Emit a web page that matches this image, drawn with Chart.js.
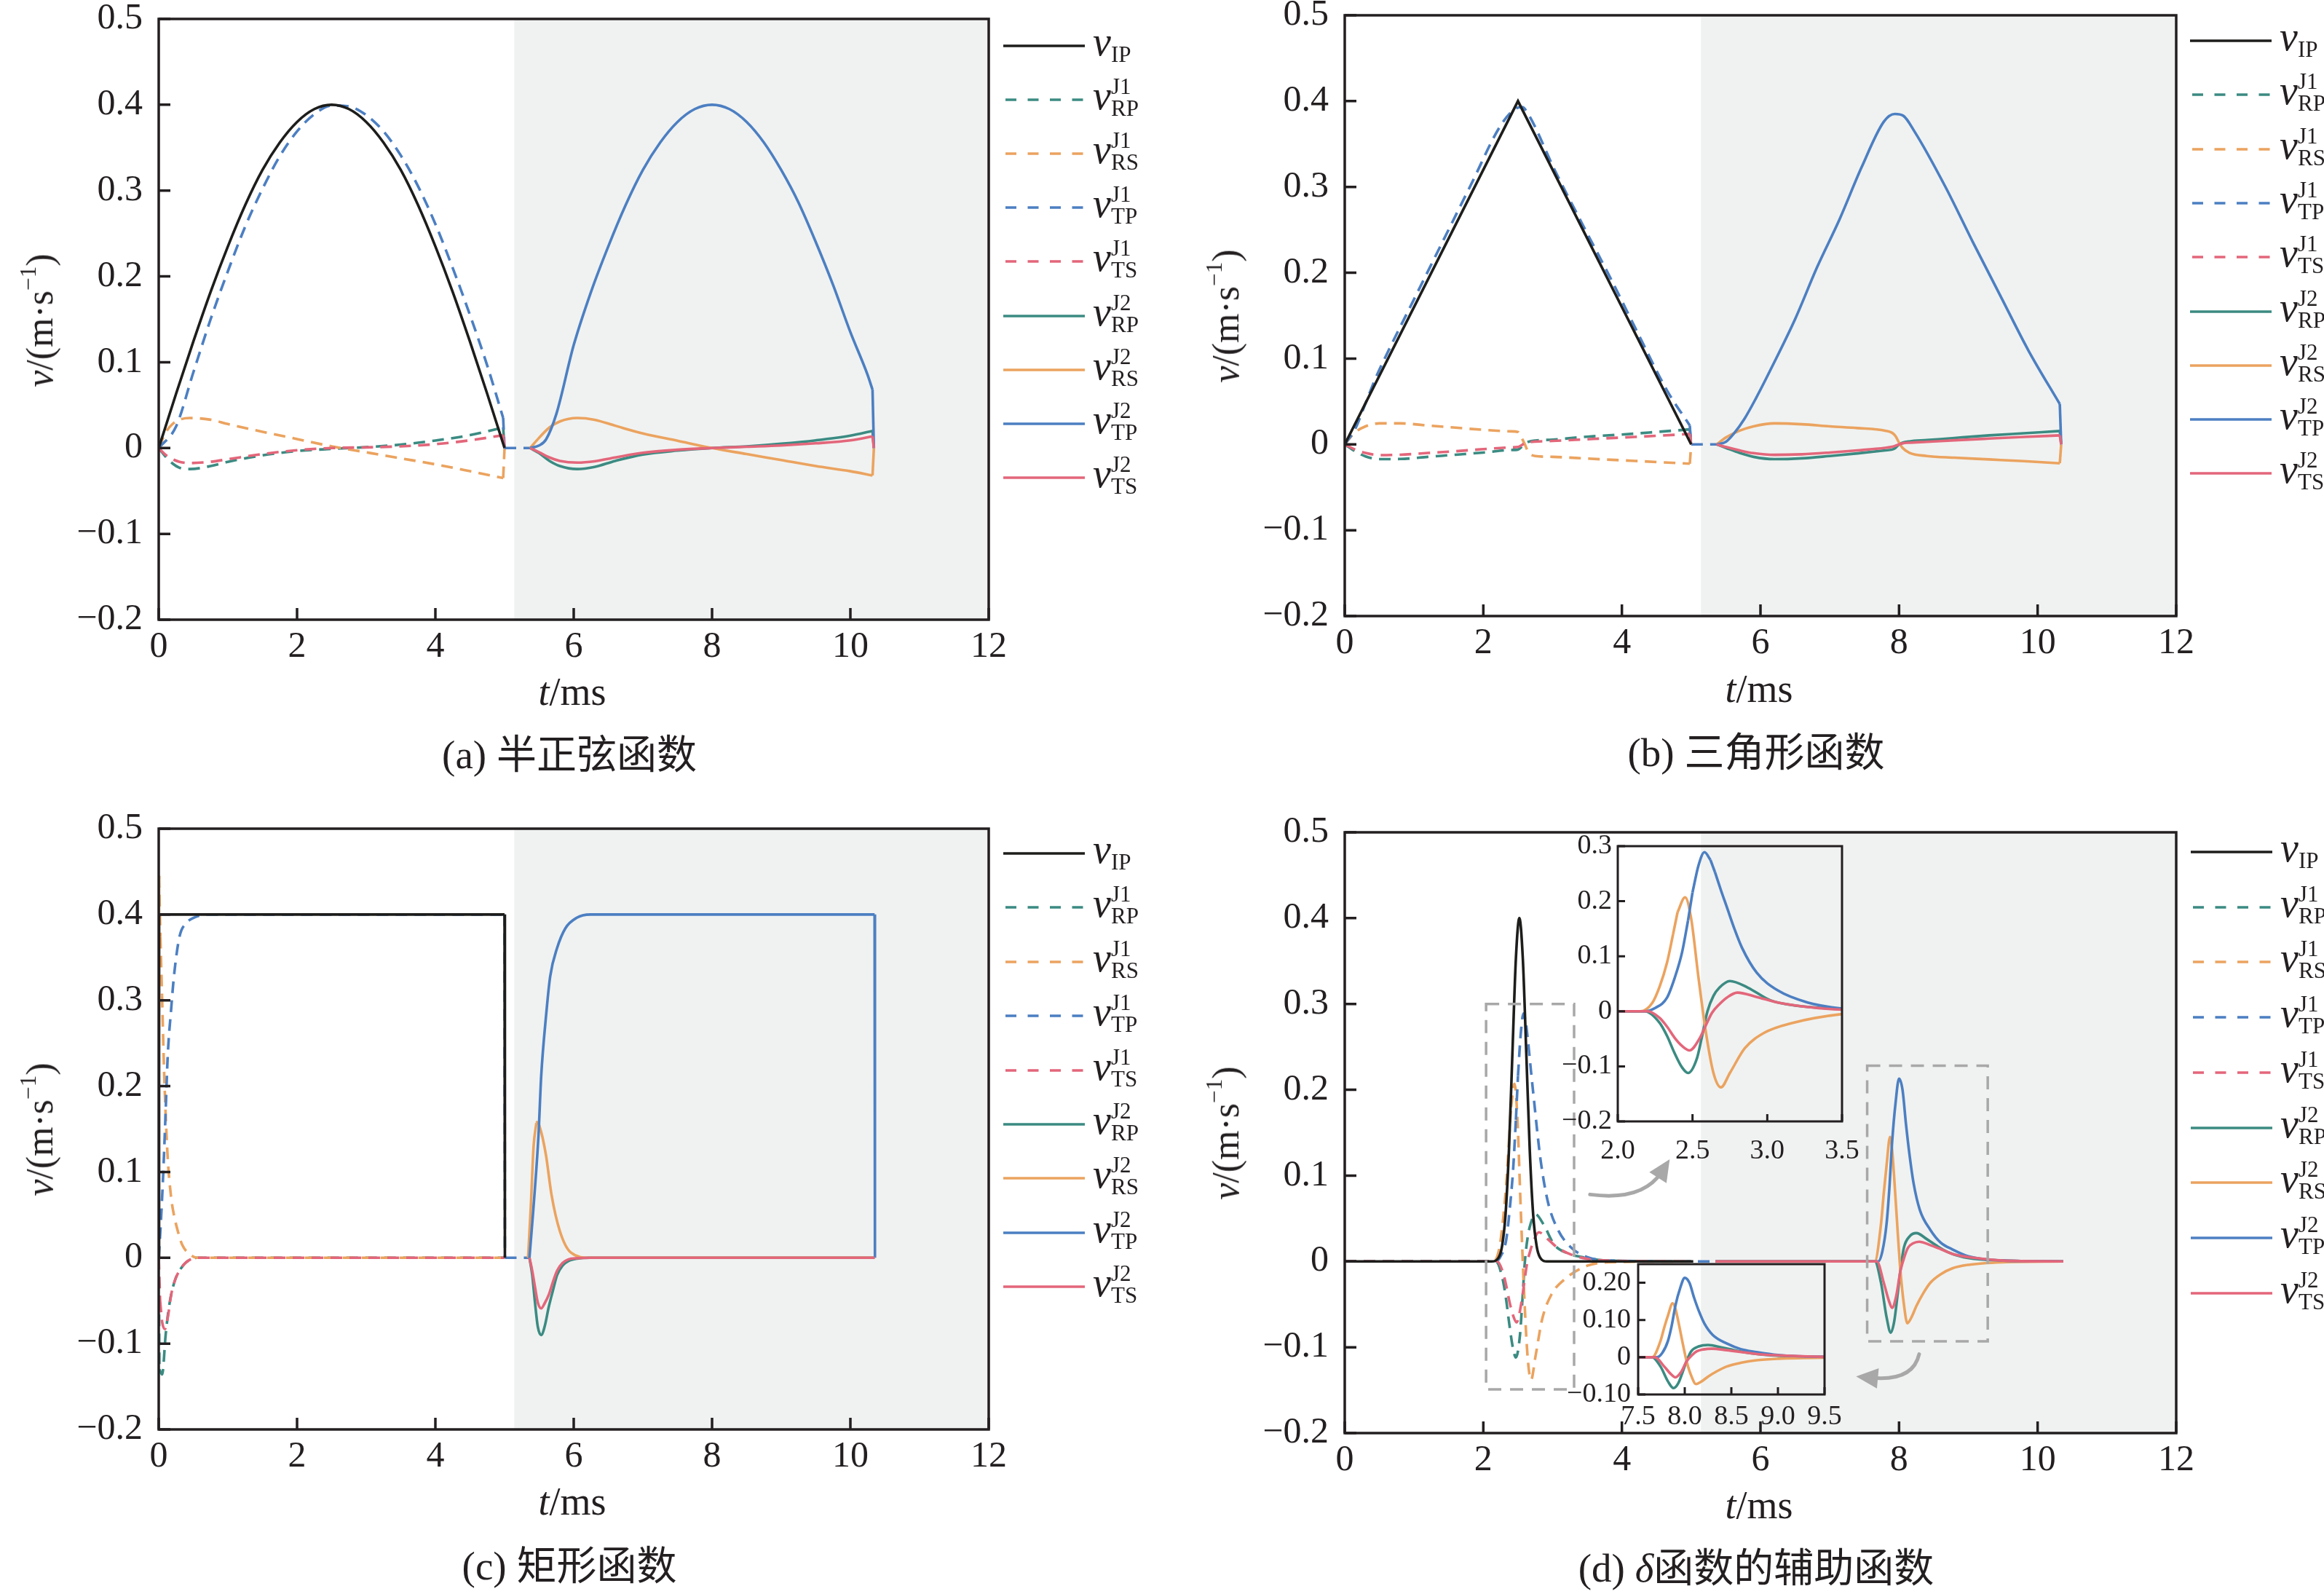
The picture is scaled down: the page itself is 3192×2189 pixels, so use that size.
<!DOCTYPE html>
<html>
<head>
<meta charset="utf-8">
<script src="https://cdn.jsdelivr.net/npm/chart.js"></script>
<style>
body{margin:0;background:#fff;}
#page{position:relative;width:3192px;height:2189px;overflow:hidden;background:#fff;
  font-family:"Liberation Serif","Noto Sans CJK SC",serif;color:#231f20;}
canvas{position:absolute;}
.lbl{position:absolute;white-space:nowrap;line-height:1;}
.ctr{transform:translate(-50%,-50%);}
.rot{transform:translate(-50%,-50%) rotate(-90deg);}
sup.ex{font-size:0.6em;line-height:0;vertical-align:0.75em;}
</style>
</head>
<body>
<div id="page"></div>
<script>
// ---------- (a) half-sine ----------
const aT_IP=[0,0.25,0.5,0.75,1,1.25,1.5,1.75,2,2.25,2.5,2.75,3,3.25,3.5,3.75,4,4.25,4.5,4.75,5];
const aIP=[0,0.063,0.124,0.182,0.235,0.283,0.324,0.356,0.38,0.395,0.4,0.395,0.38,0.356,0.324,0.283,0.235,0.182,0.124,0.063,0];
const aT_J1TP=[0,0.25,0.5,0.75,1,1.25,1.5,1.75,2,2.25,2.5,2.75,3,3.25,3.5,3.75,4,4.25,4.5,4.75,4.98,5.0,5.37];
const aJ1TP=[0,0.025,0.088,0.15,0.206,0.258,0.302,0.34,0.369,0.389,0.399,0.398,0.388,0.369,0.341,0.305,0.261,0.21,0.155,0.096,0.035,0,0];
const aT_J1=[0,0.1,0.2,0.3,0.45,0.75,1,1.5,2,2.5,3,3.5,4,4.5,4.98,5.0];
const aJ1RP=[0,-0.01,-0.018,-0.023,-0.0245,-0.021,-0.016,-0.0085,-0.0035,-0.001,0.001,0.004,0.0088,0.015,0.024,0];
const aJ1RS=[0,0.018,0.028,0.033,0.035,0.033,0.028,0.019,0.0105,0.002,-0.005,-0.012,-0.019,-0.027,-0.035,0];
const aJ1TS=[0,-0.008,-0.013,-0.016,-0.0175,-0.016,-0.013,-0.007,-0.0025,0,0.0008,0.002,0.0045,0.009,0.015,0];
const aT_J2=[5.37,5.5,5.65,5.8,6.05,6.3,6.6,7,7.5,8,8.5,9,9.5,10,10.32,10.34];
const aJ2RP=[0,-0.006,-0.015,-0.021,-0.0245,-0.022,-0.015,-0.0075,-0.003,0,0.002,0.005,0.009,0.0145,0.02,0];
const aJ2RS=[0,0.012,0.024,0.031,0.035,0.033,0.026,0.017,0.0085,0,-0.007,-0.014,-0.021,-0.027,-0.032,0];
const aJ2TS=[0,-0.005,-0.011,-0.015,-0.017,-0.0155,-0.011,-0.0055,-0.002,0,0.0015,0.003,0.0055,0.009,0.0136,0];
const aT_J2TP=[5.37,5.5,5.6,5.75,6,6.25,6.5,6.75,7,7.25,7.5,7.75,8,8.25,8.5,8.75,9,9.25,9.5,9.75,10,10.25,10.32,10.34];
const aJ2TP=[0,0.003,0.01,0.04,0.12,0.182,0.235,0.283,0.324,0.356,0.38,0.395,0.4,0.395,0.38,0.356,0.324,0.286,0.24,0.19,0.135,0.085,0.068,0];

// ---------- (b) triangle ----------
const bT_IP=[0,2.5,5.0];
const bIP=[0,0.4,0];
const bT_J1TP=[0,0.15,0.3,0.45,0.63,1.03,1.43,1.83,2.23,2.44,2.56,2.64,3.04,3.44,3.84,4.24,4.65,4.98,5.0,5.37];
const bJ1TP=[0,0.018,0.048,0.078,0.109,0.174,0.239,0.304,0.369,0.39,0.393,0.386,0.318,0.255,0.193,0.128,0.063,0.022,0,0];
const bT_J1=[0,0.15,0.3,0.5,0.8,1.2,1.6,2.0,2.4,2.5,2.55,2.6,2.65,2.75,3.0,3.5,4.0,4.5,4.98,5.0];
const bJ1RP=[0,-0.008,-0.014,-0.0172,-0.017,-0.0145,-0.012,-0.0095,-0.0065,-0.006,-0.003,0.001,0.003,0.0045,0.0055,0.009,0.0115,0.0145,0.0175,0];
const bJ1RS=[0,0.014,0.021,0.0245,0.0245,0.022,0.0195,0.017,0.0152,0.0145,0.008,0,-0.009,-0.0135,-0.0145,-0.0165,-0.0185,-0.0205,-0.0225,0];
const bJ1TS=[0,-0.006,-0.01,-0.0125,-0.012,-0.01,-0.008,-0.0055,-0.0035,-0.003,-0.001,0.0015,0.0025,0.0033,0.004,0.006,0.008,0.01,0.0122,0];
const bT_J2=[5.37,5.5,5.7,5.9,6.2,6.6,7.0,7.4,7.8,7.9,7.95,8.0,8.05,8.15,8.4,8.8,9.3,9.8,10.32,10.34];
const bJ2RP=[0,-0.004,-0.01,-0.0145,-0.0172,-0.0162,-0.0135,-0.0105,-0.007,-0.006,-0.004,0,0.002,0.0035,0.005,0.0075,0.0105,0.013,0.0156,0];
const bJ2RS=[0,0.008,0.016,0.021,0.0245,0.0235,0.021,0.019,0.016,0.0135,0.0095,0.002,-0.004,-0.0098,-0.0135,-0.0155,-0.0175,-0.0195,-0.022,0];
const bJ2TS=[0,-0.003,-0.007,-0.0102,-0.0122,-0.0115,-0.0095,-0.007,-0.004,-0.0028,-0.0015,0,0.0012,0.002,0.003,0.0048,0.0068,0.0087,0.0105,0];
const bT_J2TP=[5.37,5.5,5.61,5.77,5.93,6.17,6.5,6.82,7.14,7.46,7.78,7.94,8.06,8.22,8.67,9.07,9.47,9.87,10.32,10.34];
const bJ2TP=[0,0.003,0.012,0.03,0.053,0.091,0.146,0.207,0.262,0.323,0.376,0.385,0.383,0.365,0.3,0.235,0.172,0.109,0.047,0];

// ---------- (c) rectangle ----------
const cT_IP=[0,0.005,5.0,5.005];
const cIP=[0,0.4,0.4,0];
const cT_J1TP=[0,0.03,0.064,0.1,0.13,0.18,0.22,0.3,0.4,0.5,0.7,5.0,5.005,5.36];
const cJ1TP=[0,0.04,0.096,0.17,0.235,0.29,0.328,0.374,0.39,0.396,0.4,0.4,0,0];
const cT_J1RS=[0,0.005,0.024,0.048,0.08,0.128,0.18,0.22,0.28,0.34,0.45,0.55,5.0];
const cJ1RS=[0,0.445,0.374,0.305,0.212,0.119,0.07,0.05,0.03,0.015,0.004,0,0];
const cT_J1RP=[0,0.01,0.05,0.1,0.14,0.18,0.24,0.3,0.4,0.55,5.0];
const cJ1RP=[0,-0.13,-0.136,-0.09,-0.062,-0.043,-0.025,-0.015,-0.005,0,0];
const cT_J1TS=[0,0.02,0.05,0.09,0.13,0.18,0.24,0.3,0.4,0.55,5.0];
const cJ1TS=[0,-0.05,-0.075,-0.083,-0.07,-0.043,-0.025,-0.015,-0.005,0,0];
const cT_J2TP=[5.36,5.41,5.49,5.53,5.6,5.66,5.76,5.88,6.04,6.24,10.35,10.355];
const cJ2TP=[0,0.05,0.142,0.212,0.282,0.328,0.361,0.384,0.396,0.4,0.4,0];
const cT_J2RS=[5.34,5.38,5.42,5.46,5.48,5.5,5.55,5.6,5.68,5.8,5.96,6.24,10.35];
const cJ2RS=[0,0.06,0.13,0.157,0.159,0.155,0.14,0.119,0.073,0.031,0.006,0,0];
const cT_J2=[5.36,5.4,5.44,5.48,5.53,5.58,5.64,5.7,5.76,5.84,5.92,6.05,6.24,10.35];
const cJ2RP=[0,-0.02,-0.052,-0.08,-0.09,-0.08,-0.057,-0.038,-0.02,-0.009,-0.004,-0.001,0,0];
const cJ2TS=[0,-0.015,-0.034,-0.052,-0.059,-0.053,-0.043,-0.028,-0.015,-0.006,-0.002,-0.0005,0,0];

// ---------- (d) delta auxiliary ----------
const dT_IP=[0,2.12,2.22,2.27,2.32,2.37,2.42,2.47,2.52,2.57,2.62,2.67,2.72,2.77,2.82,2.92,5.03];
const dIP=[0,0,0.0044,0.0176,0.054,0.13,0.243,0.353,0.4,0.353,0.243,0.13,0.054,0.0176,0.0044,0,0];
const dT_J1TP=[0,2.18,2.25,2.33,2.38,2.43,2.47,2.5,2.54,2.58,2.62,2.65,2.69,2.73,2.78,2.83,2.93,3.07,3.27,3.5,3.8,5.0,5.35];
const dJ1TP=[0,0,0.006,0.025,0.06,0.107,0.165,0.216,0.265,0.289,0.275,0.253,0.22,0.189,0.15,0.116,0.07,0.038,0.016,0.005,0.001,0,0];
const dT_J1RS=[0,2.15,2.23,2.28,2.33,2.37,2.4,2.45,2.49,2.54,2.59,2.64,2.69,2.75,2.85,2.98,3.17,3.5,3.8,5.0];
const dJ1RS=[0,0,0.015,0.045,0.089,0.14,0.18,0.207,0.17,0.061,-0.039,-0.112,-0.138,-0.112,-0.067,-0.039,-0.021,-0.005,-0.001,0];
const dT_J1RP=[0,2.18,2.28,2.33,2.38,2.43,2.47,2.53,2.56,2.6,2.64,2.68,2.75,2.87,3.02,3.2,3.5,3.8,5.0];
const dJ1RP=[0,0,-0.021,-0.045,-0.076,-0.102,-0.112,-0.085,-0.05,0,0.028,0.043,0.055,0.043,0.02,0.01,0.004,0.001,0];
const dT_J1TS=[0,2.2,2.28,2.33,2.38,2.43,2.48,2.55,2.59,2.63,2.68,2.73,2.8,2.93,3.07,3.3,3.5,3.8,5.0];
const dJ1TS=[0,0,-0.012,-0.028,-0.048,-0.063,-0.071,-0.048,-0.025,-0.003,0.013,0.025,0.034,0.026,0.016,0.007,0.003,0.001,0];
const dT_J2TP=[5.35,7.7,7.76,7.82,7.86,7.9,7.95,8.0,8.05,8.1,8.15,8.21,8.3,8.45,8.6,8.77,9.0,9.5,10.37];
const dJ2TP=[0,0,0.012,0.044,0.085,0.139,0.185,0.213,0.2,0.16,0.125,0.091,0.06,0.037,0.022,0.014,0.006,0.001,0];
const dT_J2RS=[5.35,7.65,7.74,7.78,7.82,7.87,7.9,7.94,7.98,8.02,8.07,8.12,8.18,8.25,8.35,8.45,8.6,8.77,9.0,9.5,10.37];
const dJ2RS=[0,0,0.044,0.08,0.112,0.145,0.13,0.085,0.035,-0.011,-0.05,-0.072,-0.065,-0.052,-0.037,-0.025,-0.015,-0.008,-0.004,-0.001,0];
const dT_J2RP=[5.35,7.65,7.74,7.82,7.88,7.93,7.98,8.02,8.07,8.15,8.25,8.4,8.53,8.7,8.93,9.5,10.37];
const dJ2RP=[0,0,-0.025,-0.065,-0.083,-0.07,-0.038,-0.01,0.016,0.029,0.033,0.026,0.019,0.011,0.005,0.001,0];
const dT_J2TS=[5.35,7.68,7.78,7.85,7.9,7.96,8.02,8.08,8.13,8.2,8.29,8.45,8.61,8.8,9.1,9.5,10.37];
const dJ2TS=[0,0,-0.025,-0.045,-0.054,-0.04,-0.011,0.006,0.016,0.021,0.023,0.019,0.014,0.008,0.004,0.001,0];

// ticks
const xTicks=[0,2,4,6,8,10,12];
const xTickLabels=['0','2','4','6','8','10','12'];
const yTicks=[-0.2,-0.1,0,0.1,0.2,0.3,0.4,0.5];
const yTickLabels=['\u22120.2','\u22120.1','0','0.1','0.2','0.3','0.4','0.5'];
const in1XTicks=[2,2.5,3,3.5];
const in1XLabels=['2.0','2.5','3.0','3.5'];
const in1YTicks=[-0.2,-0.1,0,0.1,0.2,0.3];
const in1YLabels=['\u22120.2','\u22120.1','0','0.1','0.2','0.3'];
const in2XTicks=[7.5,8,8.5,9,9.5];
const in2XLabels=['7.5','8.0','8.5','9.0','9.5'];
const in2YTicks=[-0.1,0,0.1,0.2];
const in2YLabels=['\u22120.10','0','0.10','0.20'];

// legend
const legSub=['IP','RP','RS','TP','TS','RP','RS','TP','TS'];
const legSup=['','J1','J1','J1','J1','J2','J2','J2','J2'];
const captions=['(a) 半正弦函数','(b) 三角形函数','(c) 矩形函数','(d) <i>δ</i>函数的辅助函数'];

// zoom marks in panel (d), data units
const zoomBoxA=[2.04,3.31,-0.149,0.30];
const zoomBoxB=[7.54,9.28,-0.093,0.228];
const arrowA=[[3.54,0.078],[4.3,0.07],[4.69,0.119]];
const arrowB=[[8.29,-0.108],[8.2,-0.14],[7.38,-0.134]];

// ---------- styling / layout ----------
const INK='#231f20';
const FONT='"Liberation Serif", "Times New Roman", serif';
const colIP='#1d1d1b', colRP='#3b8b82', colRS='#eba35f', colTP='#4c7fc2', colTS='#e3667a';
const legColors=[colIP,colRP,colRS,colTP,colTS,colRP,colRS,colTP,colTS];
const legDash=[false,true,true,true,true,false,false,false,false];
const shadeStart=5.14;
const shadeColor='#f0f2f1';
const page=document.getElementById('page');

const boxA={x:0,y:0,w:1400,h:1000,pl:218,pt:26,pr:1358,pb:851};
const boxB={x:1600,y:0,w:1420,h:1000,pl:1847,pt:21,pr:2989,pb:846};
const boxC={x:0,y:1100,w:1400,h:1000,pl:218,pt:1138,pr:1358,pb:1963};
const boxD={x:1600,y:1100,w:1420,h:1000,pl:1847,pt:1143,pr:2989,pb:1968};
const boxD1={x:2110,y:1125,w:450,h:500,pl:2222,pt:1162,pr:2530,pb:1540};
const boxD2={x:2130,y:1700,w:410,h:290,pl:2250,pt:1736,pr:2506,pb:1915};

// one series -> one or more datasets: smooth runs are drawn monotone,
// near-vertical jumps (tiny dt) are drawn straight so they do not bend the curve
function line(t,v,color,dashed,smooth){
  const pts=t.map((x,i)=>({x:x,y:v[i]}));
  const runs=[]; let cur=[pts[0]];
  for(let i=1;i<pts.length;i++){
    if(pts[i].x-pts[i-1].x<0.03){
      if(cur.length>1) runs.push({p:cur,s:smooth!==false});
      runs.push({p:[pts[i-1],pts[i]],s:false});
      cur=[pts[i]];
    } else cur.push(pts[i]);
  }
  if(cur.length>1) runs.push({p:cur,s:smooth!==false});
  return runs.map(r=>({
    data:r.p, borderColor:color, borderWidth:3.6,
    borderDash:dashed?[16,10]:[],
    pointRadius:0, fill:false, tension:0,
    cubicInterpolationMode:r.s?'monotone':'default'
  }));
}
// later series on top, but the input pulse (first series) above all
function ordered(list){
  const out=[];
  list.forEach((grp,i)=>grp.forEach(d=>{d.order=(i===0)?0:list.length-i;out.push(d);}));
  return out;
}

const framePlugin={
  id:'frame',
  beforeDatasetsDraw(chart,args,o){
    if(o.shade==null) return;
    const {ctx,chartArea:a,scales}=chart;
    const x0=scales.x.getPixelForValue(o.shade);
    ctx.save(); ctx.fillStyle=shadeColor;
    ctx.fillRect(x0,a.top,a.right-x0,a.bottom-a.top);
    ctx.restore();
  },
  afterDraw(chart,args,o){
    const {ctx,chartArea:a,scales}=chart;
    ctx.save(); ctx.strokeStyle=INK; ctx.lineWidth=o.lw; ctx.setLineDash([]);
    ctx.strokeRect(a.left,a.top,a.right-a.left,a.bottom-a.top);
    ctx.beginPath();
    scales.x.ticks.forEach(t=>{const p=scales.x.getPixelForValue(t.value);ctx.moveTo(p,a.bottom);ctx.lineTo(p,a.bottom-o.tick);});
    scales.y.ticks.forEach(t=>{const p=scales.y.getPixelForValue(t.value);ctx.moveTo(a.left,p);ctx.lineTo(a.left+o.tick,p);});
    ctx.stroke(); ctx.restore();
  }
};

const zoomMarks={
  id:'zoomMarks',
  afterDatasetsDraw(chart){
    const {ctx,scales:{x,y}}=chart;
    ctx.save();
    ctx.strokeStyle='#a8a8a8'; ctx.fillStyle='#a8a8a8';
    ctx.lineWidth=3.5; ctx.setLineDash([18,12]);
    [zoomBoxA,zoomBoxB].forEach(b=>{
      const x0=x.getPixelForValue(b[0]),x1=x.getPixelForValue(b[1]);
      const y0=y.getPixelForValue(b[3]),y1=y.getPixelForValue(b[2]);
      ctx.strokeRect(x0,y0,x1-x0,y1-y0);
    });
    ctx.setLineDash([]); ctx.lineWidth=5; ctx.lineCap='round';
    [arrowA,arrowB].forEach(ar=>{
      const p=ar.map(q=>[x.getPixelForValue(q[0]),y.getPixelForValue(q[1])]);
      const ang=Math.atan2(p[2][1]-p[1][1],p[2][0]-p[1][0]);
      const c=Math.cos(ang),s=Math.sin(ang),hl=30,hw=14;
      ctx.beginPath(); ctx.moveTo(p[0][0],p[0][1]);
      ctx.quadraticCurveTo(p[1][0],p[1][1],p[2][0]-hl*0.7*c,p[2][1]-hl*0.7*s);
      ctx.stroke();
      ctx.beginPath(); ctx.moveTo(p[2][0],p[2][1]);
      ctx.lineTo(p[2][0]-hl*c+hw*s,p[2][1]-hl*s-hw*c);
      ctx.lineTo(p[2][0]-hl*c-hw*s,p[2][1]-hl*s+hw*c);
      ctx.closePath(); ctx.fill();
    });
    ctx.restore();
  }
};

function makeChart(box,series,ax,o){
  const cv=document.createElement('canvas');
  cv.width=box.w; cv.height=box.h;
  cv.style.left=box.x+'px'; cv.style.top=box.y+'px';
  page.appendChild(cv);
  return new Chart(cv.getContext('2d'),{
    type:'line',
    data:{datasets:ordered(series)},
    options:{
      responsive:false, animation:false, devicePixelRatio:1,
      layout:{padding:{top:box.pt-box.y,right:box.x+box.w-box.pr,left:0,bottom:0}},
      plugins:{legend:{display:false},tooltip:{enabled:false},
        frame:{shade:o.shade,lw:o.lw,tick:o.tick}},
      scales:{
        x:{type:'linear',min:ax.xmin,max:ax.xmax,
          grid:{display:false,drawTicks:false},border:{display:false},
          ticks:{autoSkip:false,maxRotation:0,padding:o.xpad,color:INK,
            font:{family:FONT,size:o.fs},callback:(v,i)=>ax.xl[i]},
          afterBuildTicks:s=>{s.ticks=ax.xt.map(v=>({value:v}));},
          afterFit:s=>{s.height=box.y+box.h-box.pb;s.paddingLeft=0;s.paddingRight=0;}},
        y:{type:'linear',min:ax.ymin,max:ax.ymax,
          grid:{display:false,drawTicks:false},border:{display:false},
          ticks:{autoSkip:false,padding:o.ypad,color:INK,
            font:{family:FONT,size:o.fs},callback:(v,i)=>ax.yl[i]},
          afterBuildTicks:s=>{s.ticks=ax.yt.map(v=>({value:v}));},
          afterFit:s=>{s.width=box.pl-box.x;s.paddingTop=0;s.paddingBottom=0;}}
      }
    },
    plugins:[framePlugin].concat(o.extra||[])
  });
}

const mainAx={xmin:0,xmax:12,ymin:-0.2,ymax:0.5,xt:xTicks,xl:xTickLabels,yt:yTicks,yl:yTickLabels};
const mainOpt={shade:shadeStart,lw:3.5,tick:16,fs:50,xpad:8,ypad:22};

makeChart(boxA,[
  line(aT_IP,aIP,colIP,false),
  line(aT_J1,aJ1RP,colRP,true),
  line(aT_J1,aJ1RS,colRS,true),
  line(aT_J1TP,aJ1TP,colTP,true),
  line(aT_J1,aJ1TS,colTS,true),
  line(aT_J2,aJ2RP,colRP,false),
  line(aT_J2,aJ2RS,colRS,false),
  line(aT_J2TP,aJ2TP,colTP,false),
  line(aT_J2,aJ2TS,colTS,false)
],mainAx,mainOpt);

makeChart(boxB,[
  line(bT_IP,bIP,colIP,false,false),
  line(bT_J1,bJ1RP,colRP,true),
  line(bT_J1,bJ1RS,colRS,true),
  line(bT_J1TP,bJ1TP,colTP,true),
  line(bT_J1,bJ1TS,colTS,true),
  line(bT_J2,bJ2RP,colRP,false),
  line(bT_J2,bJ2RS,colRS,false),
  line(bT_J2TP,bJ2TP,colTP,false),
  line(bT_J2,bJ2TS,colTS,false)
],mainAx,mainOpt);

makeChart(boxC,[
  line(cT_IP,cIP,colIP,false,false),
  line(cT_J1RP,cJ1RP,colRP,true),
  line(cT_J1RS,cJ1RS,colRS,true),
  line(cT_J1TP,cJ1TP,colTP,true),
  line(cT_J1TS,cJ1TS,colTS,true),
  line(cT_J2,cJ2RP,colRP,false),
  line(cT_J2RS,cJ2RS,colRS,false),
  line(cT_J2TP,cJ2TP,colTP,false),
  line(cT_J2,cJ2TS,colTS,false)
],mainAx,mainOpt);

makeChart(boxD,[
  line(dT_IP,dIP,colIP,false),
  line(dT_J1RP,dJ1RP,colRP,true),
  line(dT_J1RS,dJ1RS,colRS,true),
  line(dT_J1TP,dJ1TP,colTP,true),
  line(dT_J1TS,dJ1TS,colTS,true),
  line(dT_J2RP,dJ2RP,colRP,false),
  line(dT_J2RS,dJ2RS,colRS,false),
  line(dT_J2TP,dJ2TP,colTP,false),
  line(dT_J2TS,dJ2TS,colTS,false)
],mainAx,Object.assign({},mainOpt,{extra:[zoomMarks]}));

// insets (first entry is a blank placeholder so the ordering helper keeps red on top)
makeChart(boxD1,[
  [],
  line(dT_J1RP,dJ1RP,colRP,false),
  line(dT_J1RS,dJ1RS,colRS,false),
  line(dT_J1TP,dJ1TP,colTP,false),
  line(dT_J1TS,dJ1TS,colTS,false)
],{xmin:2,xmax:3.5,ymin:-0.2,ymax:0.3,xt:in1XTicks,xl:in1XLabels,yt:in1YTicks,yl:in1YLabels},
{shade:null,lw:3,tick:10,fs:38,xpad:18,ypad:8});

makeChart(boxD2,[
  [],
  line(dT_J2RP,dJ2RP,colRP,false),
  line(dT_J2RS,dJ2RS,colRS,false),
  line(dT_J2TP,dJ2TP,colTP,false),
  line(dT_J2TS,dJ2TS,colTS,false)
],{xmin:7.5,xmax:9.5,ymin:-0.1,ymax:0.25,xt:in2XTicks,xl:in2XLabels,yt:in2YTicks,yl:in2YLabels},
{shade:null,lw:3,tick:10,fs:38,xpad:8,ypad:10});

// ---------- html text ----------
function addText(html,x,y,size,cls){
  const d=document.createElement('div');
  d.className='lbl '+cls;
  d.style.left=x+'px'; d.style.top=y+'px'; d.style.fontSize=size+'px';
  d.innerHTML=html;
  page.appendChild(d);
}
function legend(x0,y0,dy){
  legSub.forEach((sub,i)=>{
    const y=y0+i*dy;
    const svg=document.createElementNS('http://www.w3.org/2000/svg','svg');
    svg.setAttribute('width','112'); svg.setAttribute('height','10');
    svg.style.position='absolute'; svg.style.left=x0+'px'; svg.style.top=(y-5)+'px';
    const ln=document.createElementNS('http://www.w3.org/2000/svg','line');
    ln.setAttribute('x1','0'); ln.setAttribute('x2','112');
    ln.setAttribute('y1','5'); ln.setAttribute('y2','5');
    ln.setAttribute('stroke',legColors[i]); ln.setAttribute('stroke-width','3.6');
    if(legDash[i]){ ln.setAttribute('stroke-dasharray','15 15.5'); ln.setAttribute('stroke-dashoffset','-3'); }
    svg.appendChild(ln); page.appendChild(svg);
    addText('<i>v</i>',x0+123,y-34,56,'');
    if(legSup[i]) addText(legSup[i],x0+148,y-34,31,'');
    addText(sub,x0+148,y-4,31,'');
  });
}
legend(1378,63,74.1);
legend(3008,56,74.3);
legend(1378,1172,74.4);
legend(3009,1170,75.7);

const yTitle='<i>v</i>/(m·s<sup class="ex">\u22121</sup>)';
const xTitle='<i>t</i>/ms';
addText(yTitle,55,440,52,'rot');
addText(yTitle,1684,434,52,'rot');
addText(yTitle,55,1551,52,'rot');
addText(yTitle,1684,1556,52,'rot');
addText(xTitle,786,950,54,'ctr');
addText(xTitle,2416,946,54,'ctr');
addText(xTitle,786,2062,54,'ctr');
addText(xTitle,2416,2067,54,'ctr');
addText(captions[0],782,1036,55,'ctr');
addText(captions[1],2412,1033,55,'ctr');
addText(captions[2],782,2150,55,'ctr');
addText(captions[3],2412,2153,55,'ctr');
</script>
</body>
</html>
